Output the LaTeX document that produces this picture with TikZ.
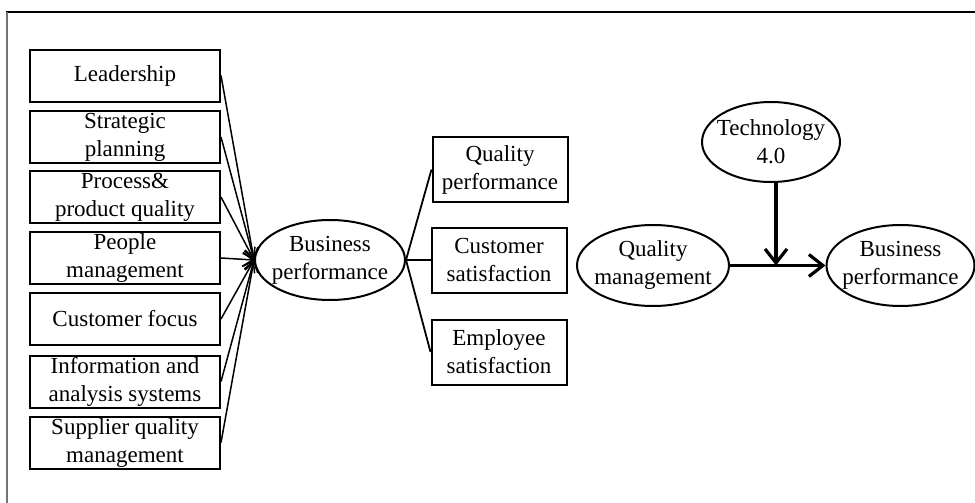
\documentclass[tikz,border=0pt]{standalone}
\usepackage{fontspec}
\setmainfont{Liberation Serif}
\usetikzlibrary{arrows.meta,shapes.geometric}
\begin{document}
\begin{tikzpicture}[x=0.5pt,y=-0.5pt,
  every node/.style={font=\fontsize{11.5}{14}\selectfont},
  lbox/.style={draw,line width=1pt,minimum width=95pt,minimum height=26pt,inner sep=0pt,align=center},
  mbox/.style={draw,line width=1pt,minimum width=67.5pt,minimum height=32.5pt,inner sep=0pt,align=center},
  ell/.style={draw,ellipse,line width=1pt,inner sep=0pt},
  txt/.style={align=center,inner sep=0pt},
  inarrow/.style={line width=0.75pt,-{Straight Barb[length=5pt,width=7pt,line width=0.75pt]}},
  thinline/.style={line width=0.9pt},
  bigarrow/.style={line width=1.6pt,-{Straight Barb[length=7pt,width=11pt,line width=1.6pt]}}
]
\useasboundingbox (0,0) rectangle (975,503);
% frame
\draw[line width=0.8pt] (6,12) -- (975,12);
\draw[line width=0.6pt,black!55] (7,12) -- (7,503);

% left boxes
\node[lbox] (l1) at (125,75.5) {Leadership};
\node[lbox] (l2) at (125,137) {Strategic\\planning};
\node[lbox] (l3) at (125,197) {Process\&\\product quality};
\node[lbox] (l4) at (125,258) {People\\management};
\node[lbox] (l5) at (125,319) {Customer focus};
\node[lbox] (l6) at (125,381.5) {Information and\\analysis systems};
\node[lbox] (l7) at (125,442.5) {Supplier quality\\management};

% central ellipse
\node[ell,minimum width=75pt,minimum height=40pt] (bp) at (330,260) {};
\node[txt] (bpt) at (bp.center) {Business\\performance};

\foreach \n in {l1,l2,l3,l4,l5,l6,l7}
  \draw[inarrow] (\n.east) -- (bp.west);

% middle boxes
\node[mbox] (qp) at (500,169.5) {Quality\\performance};
\node[mbox] (cs) at (499,260) {Customer\\satisfaction};
\node[mbox] (es) at (499,352) {Employee\\satisfaction};
\draw[thinline] (bp.east) -- (qp.west);
\draw[thinline] (bp.east) -- (cs.west);
\draw[thinline] (bp.east) -- (es.west);

% right model
\node[ell,minimum width=76pt,minimum height=40.5pt] (qm) at (653,265.5) {};
\node[txt] (qmt) at (qm.center) {Quality\\management};
\node[ell,minimum width=74pt,minimum height=40.5pt] (bp2) at (900.5,265.5) {};
\node[txt] (bp2t) at (bp2.center) {Business\\performance};
\node[ell,minimum width=69pt,minimum height=40pt] (tech) at (771,142) {};
\node[txt] (techt) at (tech.center) {Technology\\4.0};

\coordinate (m) at (776,265.5);
\draw[bigarrow] (qm.east) -- (bp2.west);
\draw[bigarrow] (tech.south -| m) -- (m);
\end{tikzpicture}
\end{document}
